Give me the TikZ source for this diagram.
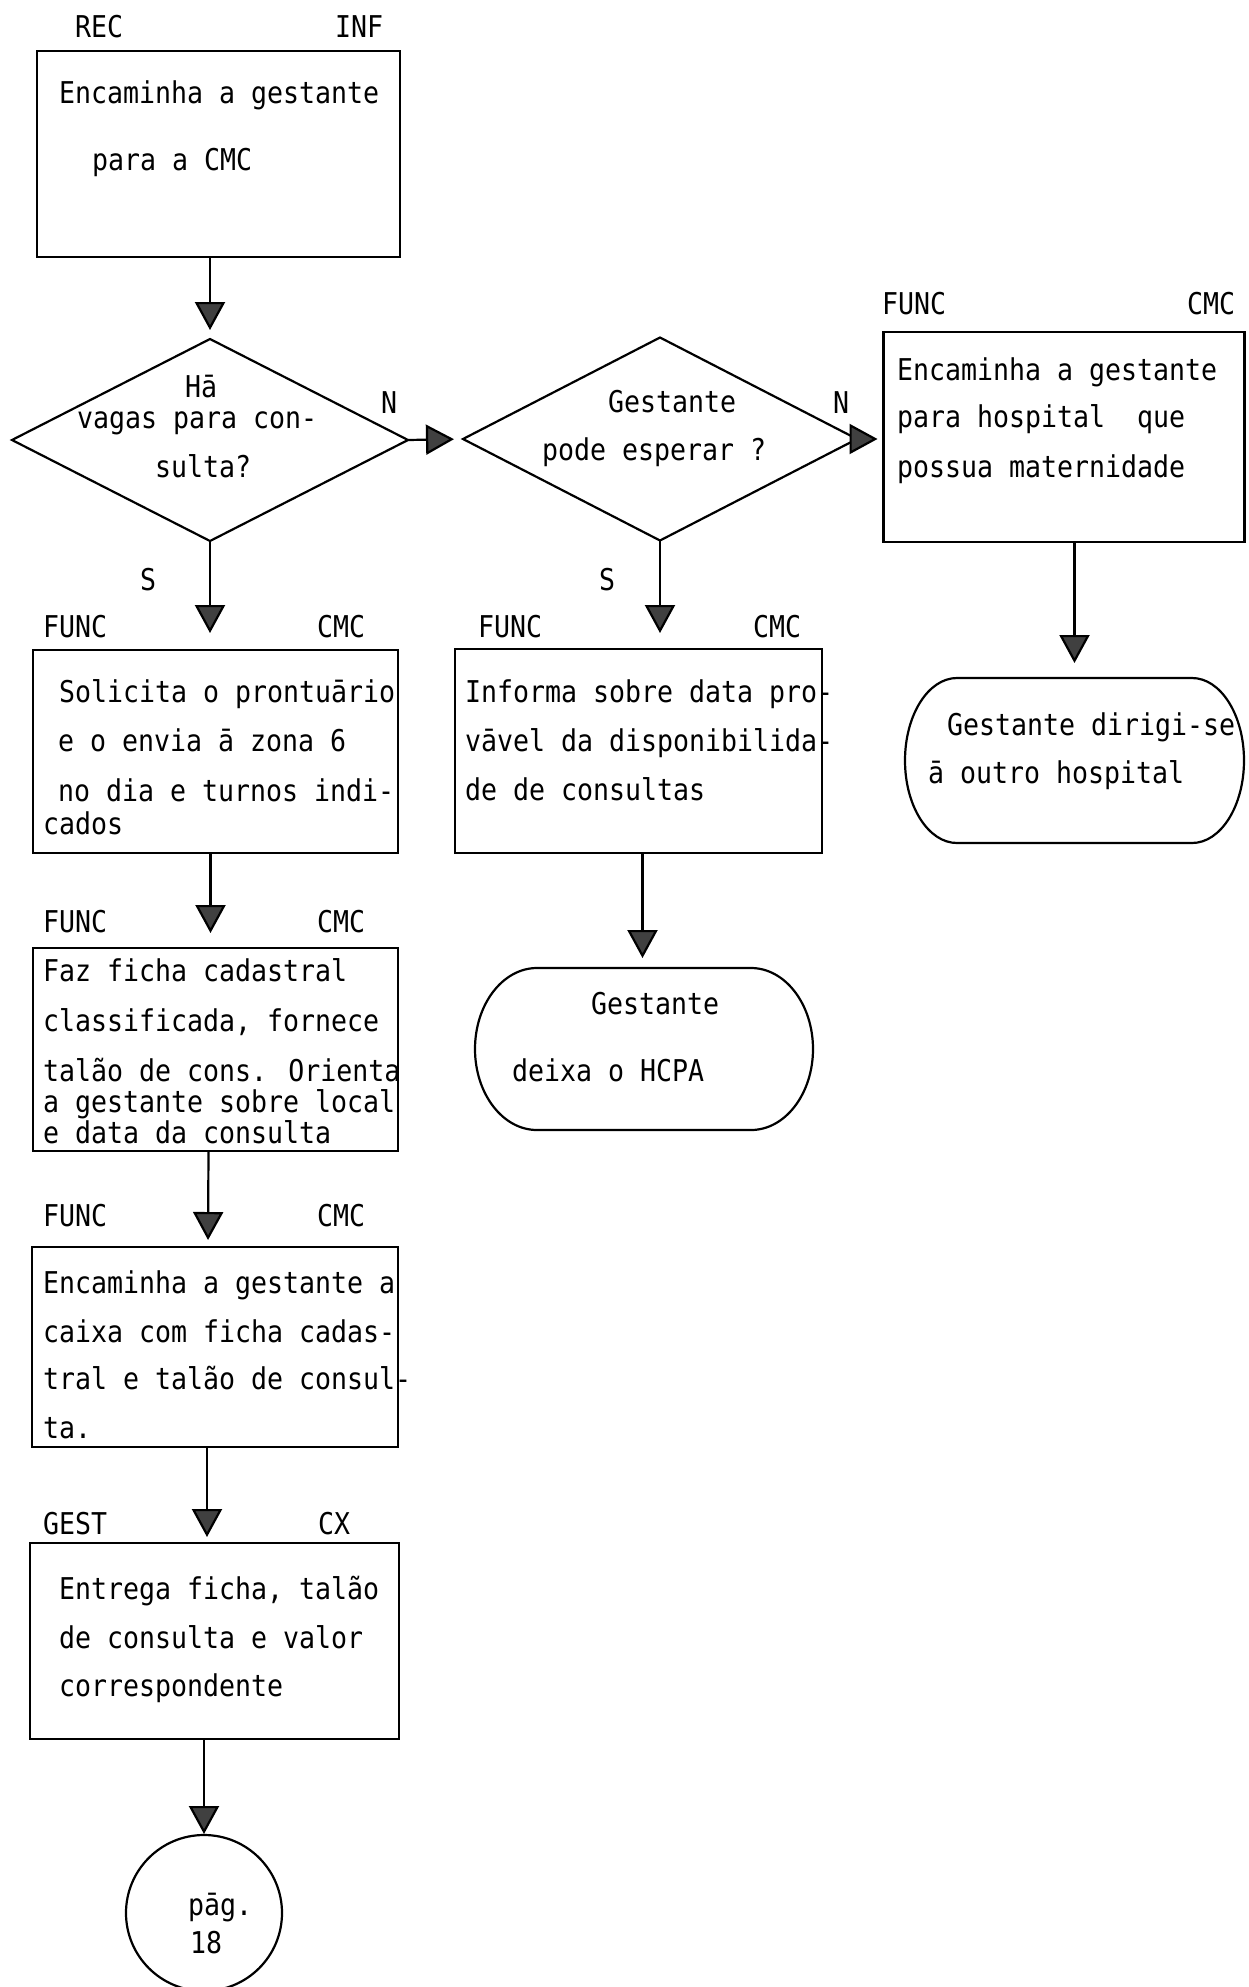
\documentclass[tikz,border=0pt]{standalone}
\usepackage{fontspec}
\usetikzlibrary{shapes.geometric,arrows.meta}
\newfontfamily\typewriter[FakeStretch=0.886]{DejaVu Sans Mono}
\newcommand\twfont{\typewriter\fontsize{30pt}{34pt}\selectfont}

% outline of a terminal: straight top and bottom, elliptical ends
% #1 node name, #2 horizontal radius of the ends, #3 half height
\newcommand\terminaloutline[3]{%
  \draw[outline] ([xshift=#2]#1.north west) -- ([xshift=-#2]#1.north east)
    arc[start angle=90,end angle=-90,x radius=#2,y radius=#3]
    -- ([xshift=#2]#1.south west)
    arc[start angle=270,end angle=90,x radius=#2,y radius=#3] -- cycle;}

\begin{document}
\begin{tikzpicture}[x=1pt,y=-1pt,
  outline/.style={draw,line width=2.2pt},
  procbox/.style={outline,rectangle,inner sep=0pt,outer sep=0pt},
  decision/.style={outline,diamond,inner sep=0pt,outer sep=0pt},
  termbox/.style={rectangle,inner sep=0pt,outer sep=0pt},
  connector/.style={draw,line width=2.2pt,
    -{Triangle[width=30pt,length=28pt,fill=black!75]}},
  lbl/.style={anchor=base west,inner sep=0pt,outer sep=0pt,font=\twfont}]

\useasboundingbox (0,0) rectangle (1248,1987);

% ---------- shapes ----------
\node[procbox,minimum width=363pt,minimum height=206pt] (b1) at (218.5,154) {};
\node[decision,minimum width=396pt,minimum height=202pt] (d1) at (210,440) {};
\node[decision,minimum width=394pt,minimum height=203pt] (d2) at (660,439) {};
\node[procbox,minimum width=361pt,minimum height=210pt] (b3) at (1064,437) {};
\node[termbox,minimum width=339pt,minimum height=165pt] (t1) at (1074.5,760.5) {};
\node[procbox,minimum width=365pt,minimum height=203pt] (b4) at (215.5,751.5) {};
\node[procbox,minimum width=367pt,minimum height=204pt] (bm) at (638.5,751) {};
\node[termbox,minimum width=338pt,minimum height=162pt] (t2) at (644,1049) {};
\node[procbox,minimum width=365pt,minimum height=203pt] (b5) at (215.5,1049.5) {};
\node[procbox,minimum width=366pt,minimum height=200pt] (b6) at (215,1347) {};
\node[procbox,minimum width=369pt,minimum height=196pt] (b7) at (214.5,1641) {};
\node[outline,circle,inner sep=0pt,outer sep=0pt,minimum size=156pt] (pg) at (204,1913) {};

\terminaloutline{t1}{52pt}{82.5pt}
\terminaloutline{t2}{62pt}{81pt}

% ---------- connectors ----------
\draw[connector,shorten >=9pt] (b1.south -| d1.north) -- (d1.north);
\draw[connector,shorten >=9pt] (d1.east) -- (d2.west);
\draw[connector,shorten >=6pt] (d2.east) -- (d2.east -| b3.west);
\draw[connector,shorten >=17pt] (d1.south) -- (d1.south |- b4.north);
\draw[connector,shorten >=16pt] (d2.south) -- (d2.south |- bm.north);
\draw[connector,shorten >=15pt] (t1.north |- b3.south) -- (t1.north);
\draw[connector,shorten >=15pt] ([xshift=-5pt]b4.south) -- ([xshift=-5pt]b5.north);
\draw[connector,shorten >=10pt] ([xshift=4pt]bm.south) -- ([xshift=4pt]bm.south |- t2.north);
\draw[connector,shorten >=7pt] ([xshift=-7pt]b5.south) -- ([xshift=-7pt]b6.north);
\draw[connector,shorten >=6pt] ([xshift=-8pt]b6.south) -- ([xshift=-8pt]b6.south |- b7.north);
\draw[connector,shorten >=1pt] (pg.north |- b7.south) -- (pg.north);

% ---------- texts ----------
\node[lbl] (rec) at (75,37) {REC};
\node[lbl] (inf) at (335,37) {INF};
\node[lbl] (b1a) at (59,103) {Encaminha a gestante};
\node[lbl] (b1b) at (92,170) {para a CMC};

\node[lbl] (d1a) at (185,397) {Hā};
\node[lbl] (d1b) at (77,428) {vagas para con-};
\node[lbl] (d1c) at (155,477) {sulta?};
\node[lbl] (d1n) at (381,413) {N};
\node[lbl] (d1s) at (140,590) {S};

\node[lbl] (d2a) at (608,412) {Gestante};
\node[lbl] (d2b) at (542,460) {pode esperar ?};
\node[lbl] (d2n) at (833,413) {N};
\node[lbl] (d2s) at (599,590) {S};

\node[lbl] (b3f) at (882,314) {FUNC};
\node[lbl] (b3c) at (1187,314) {CMC};
\node[lbl] (b3a) at (897,380) {Encaminha a gestante};
\node[lbl] (b3b) at (897,427) {para hospital\ \ que};
\node[lbl] (b3d) at (897,477) {possua maternidade};

\node[lbl] (t1a) at (947,735) {Gestante dirigi-se};
\node[lbl] (t1b) at (928,783) {ā outro hospital};

\node[lbl] (b4f) at (43,637) {FUNC};
\node[lbl] (b4c) at (317,637) {CMC};
\node[lbl] (b4a) at (59,702) {Solicita o prontuārio};
\node[lbl] (b4b) at (58,751) {e o envia ā zona 6};
\node[lbl] (b4d) at (58,801) {no dia e turnos indi-};
\node[lbl] (b4e) at (43,834) {cados};

\node[lbl] (bmf) at (478,637) {FUNC};
\node[lbl] (bmc) at (753,637) {CMC};
\node[lbl] (bma) at (465,702) {Informa sobre data pro-};
\node[lbl] (bmb) at (465,751) {vāvel da disponibilida-};
\node[lbl] (bmd) at (465,800) {de de consultas};

\node[lbl] (t2a) at (591,1014) {Gestante};
\node[lbl] (t2b) at (512,1081) {deixa o HCPA};

\node[lbl] (b5f) at (43,932) {FUNC};
\node[lbl] (b5c) at (317,932) {CMC};
\node[lbl] (b5a) at (43,981) {Faz ficha cadastral};
\node[lbl] (b5b) at (43,1031) {classificada, fornece};
\node[lbl] (b5d) at (43,1081) {talão de cons. Orienta};
\node[lbl] (b5e) at (43,1112) {a gestante sobre local};
\node[lbl] (b5g) at (43,1143) {e data da consulta};

\node[lbl] (b6f) at (43,1226) {FUNC};
\node[lbl] (b6c) at (317,1226) {CMC};
\node[lbl] (b6a) at (43,1293) {Encaminha a gestante a};
\node[lbl] (b6b) at (43,1342) {caixa com ficha cadas-};
\node[lbl] (b6d) at (43,1389) {tral e talão de consul-};
\node[lbl] (b6e) at (43,1438) {ta.};

\node[lbl] (b7f) at (43,1534) {GEST};
\node[lbl] (b7c) at (318,1534) {CX};
\node[lbl] (b7a) at (59,1599) {Entrega ficha, talão};
\node[lbl] (b7b) at (59,1648) {de consulta e valor};
\node[lbl] (b7d) at (59,1696) {correspondente};

\node[lbl] (pga) at (188,1915) {pāg.};
\node[lbl] (pgb) at (190,1953) {18};
\end{tikzpicture}
\end{document}
